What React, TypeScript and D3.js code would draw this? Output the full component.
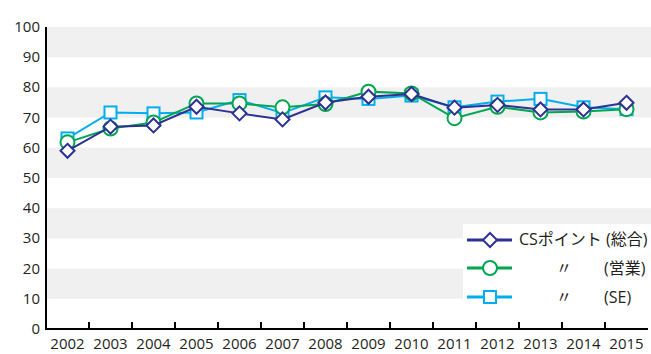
import React from "react";
import * as d3 from "d3";

const years = ["2002","2003","2004","2005","2006","2007","2008","2009","2010","2011","2012","2013","2014","2015"];
const sogo = [59, 67, 67.4, 73.6, 71.4, 69.4, 75, 76.9, 77.8, 73.3, 74.2, 72.7, 72.7, 74.9];
const eigyo = [61.8, 66.4, 68.4, 74.7, 74.7, 73.4, 74.5, 78.6, 78, 69.8, 73.6, 71.7, 72, 72.8];
const se = [63.1, 71.7, 71.4, 71.7, 75.8, 71.5, 76.7, 76.2, 77.3, 73.4, 75.3, 76.2, 73.4, 72.8];
const yTicks = [0, 10, 20, 30, 40, 50, 60, 70, 80, 90, 100];
const legendLabels = ["CSポイント (総合)", "(営業)", "(SE)"];

const W = 651, H = 354;
const left = 46, right = 648, top = 27, bottom = 329;
const font = "'Open Sans', 'Noto Sans CJK JP', sans-serif";
const navy = "#2e3192", green = "#00a651", blue = "#00aeef";

export default function App() {
  const x = d3.scaleBand<string>().domain(years).range([left, right]);
  const y = d3.scaleLinear().domain([0, 100]).range([bottom, top]);
  const cx = (i: number) => (x(years[i]) as number) + x.bandwidth() / 2;
  const line = (vals: number[]) =>
    d3.line<number>().x((_, i) => cx(i)).y((v) => y(v))(vals) as string;

  const bands = [10, 30, 50, 70, 90];

  const diamond = (px: number, py: number, key: any) => (
    <path key={key} d={`M${px},${py - 7}L${px + 7},${py}L${px},${py + 7}L${px - 7},${py}Z`} fill="#fff" stroke={navy} strokeWidth={2} />
  );
  const circle = (px: number, py: number, key: any) => (
    <circle key={key} cx={px} cy={py} r={7} fill="#fff" stroke={green} strokeWidth={2} />
  );
  const square = (px: number, py: number, key: any) => (
    <rect key={key} x={px - 6} y={py - 6} width={12} height={12} fill="#fff" stroke={blue} strokeWidth={2} />
  );

  const legendRows = [
    { color: navy, marker: diamond, y: 240 },
    { color: green, marker: circle, y: 268 },
    { color: blue, marker: square, y: 297 },
  ];

  return (
    <svg width={W} height={H} style={{ position: "absolute", left: 0, top: 0 }} fontFamily={font}>
      <rect x={0} y={0} width={W} height={H} fill="#fff" />
      {bands.map((b) => (
        <rect key={b} x={left} y={y(b + 10)} width={W - left} height={y(b) - y(b + 10)} fill="#f0f0f0" />
      ))}
      {yTicks.map((t) => (
        <text key={t} x={40} y={y(t) + 5} textAnchor="end" fontSize={15} fill="#231f20">{t}</text>
      ))}
      {years.map((yr, i) => (
        <text key={yr} x={cx(i)} y={349} textAnchor="middle" fontSize={15} fill="#231f20">{yr}</text>
      ))}
      {years.slice(1).map((yr) => (
        <line key={yr} x1={x(yr) as number} x2={x(yr) as number} y1={bottom} y2={bottom - 7} stroke="#000" strokeWidth={2} />
      ))}
      <rect x={463} y={224} width={W - 463} height={95} fill="#fff" />
      <path d={line(se)} fill="none" stroke={blue} strokeWidth={2} />
      {se.map((v, i) => square(cx(i), y(v), "s" + i))}
      <path d={line(eigyo)} fill="none" stroke={green} strokeWidth={2} />
      {eigyo.map((v, i) => circle(cx(i), y(v), "e" + i))}
      <path d={line(sogo)} fill="none" stroke={navy} strokeWidth={2} />
      {sogo.map((v, i) => diamond(cx(i), y(v), "d" + i))}
      <line x1={left} x2={left} y1={top} y2={bottom + 1} stroke="#000" strokeWidth={2} />
      <line x1={left - 1} x2={right} y1={bottom} y2={bottom} stroke="#000" strokeWidth={2} />
      {legendRows.map((r, i) => (
        <g key={i}>
          <line x1={467} x2={512} y1={r.y} y2={r.y} stroke={r.color} strokeWidth={3} />
          {r.marker(490, r.y, "lm" + i)}
        </g>
      ))}
      <text x={519} y={245} fontSize={16} fill="#231f20">{legendLabels[0]}</text>
      <text x={556} y={274} fontSize={16} fill="#231f20">〃</text>
      <text x={604} y={274} fontSize={16} fill="#231f20">{legendLabels[1]}</text>
      <text x={556} y={303} fontSize={16} fill="#231f20">〃</text>
      <text x={604} y={303} fontSize={16} fill="#231f20">{legendLabels[2]}</text>
    </svg>
  );
}
